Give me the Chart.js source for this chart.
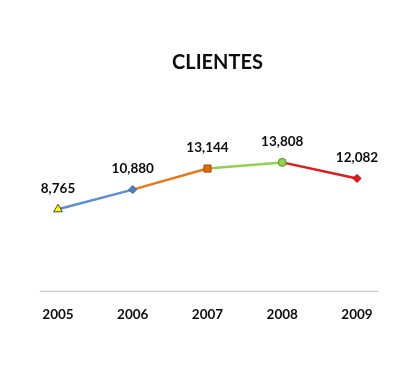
<!DOCTYPE html>
<html>
<head>
<meta charset="utf-8">
<script src="https://cdn.jsdelivr.net/npm/chart.js@4"></script>
<style>
html,body{margin:0;padding:0;background:#fff;}
#wrap{width:409px;height:375px;position:relative;}
</style>
</head>
<body>
<div id="wrap"><canvas id="c" width="409" height="375"></canvas></div>
<script>
const title = "CLIENTES";
const years = ["2005", "2006", "2007", "2008", "2009"];
const clientes = [8765, 10880, 13144, 13808, 12082];
const segmentColors = ["#5B8FD0", "#E8781E", "#92D050", "#E01A1A"];
const pointStyles = ["triangle", "rectRot", "rect", "circle", "rectRot"];
const pointFills = ["#FFFF00", "#4F7FBF", "#E46C0A", "#92D050", "#E01A1A"];
const pointBorders = ["#404040", "#2F5F9F", "#A04A08", "#5E8A30", "#C00000"];

const FONT = "Lato, 'Open Sans', sans-serif";

const decor = {
  id: "decor",
  beforeDatasetsDraw(chart) {
    const ctx = chart.ctx;
    const x = chart.scales.x, y = chart.scales.y;
    const step = x.getPixelForValue(1) - x.getPixelForValue(0);
    const y0 = y.getPixelForValue(0);
    ctx.save();
    ctx.strokeStyle = "#BFBFBF";
    ctx.lineWidth = 1;
    ctx.beginPath();
    ctx.moveTo(x.getPixelForValue(0) - step * 0.245, y0 + 0.5);
    ctx.lineTo(x.getPixelForValue(years.length - 1) + step * 0.28, y0 + 0.5);
    ctx.stroke();
    ctx.restore();
  },
  afterDatasetsDraw(chart) {
    const ctx = chart.ctx;
    const meta = chart.getDatasetMeta(0);
    ctx.save();
    ctx.fillStyle = "#0D0D0D";
    ctx.textAlign = "center";
    ctx.textBaseline = "middle";
    ctx.font = "bold 13.5px " + FONT;
    meta.data.forEach((pt, i) => {
      ctx.fillText(clientes[i].toLocaleString("en-US"), pt.x, pt.y - 21);
    });
    ctx.font = "bold 20px " + FONT;
    const ca = chart.chartArea;
    ctx.fillText(title, (ca.left + ca.right) / 2 + 10, 63);
    ctx.restore();
  }
};

new Chart(document.getElementById("c"), {
  type: "line",
  data: {
    labels: years,
    datasets: [{
      data: clientes,
      borderWidth: 2.5,
      borderColor: segmentColors[0],
      segment: {
        borderColor: c => segmentColors[c.p0DataIndex]
      },
      pointStyle: pointStyles,
      pointBackgroundColor: pointFills,
      pointBorderColor: pointBorders,
      pointBorderWidth: 1,
      pointRadius: [5, 4, 5, 4, 4],
      tension: 0
    }]
  },
  options: {
    responsive: false,
    animation: false,
    events: [],
    layout: { padding: { left: 58, right: 52, top: 142, bottom: 36 } },
    plugins: { legend: { display: false }, tooltip: { enabled: false }, title: { display: false } },
    scales: {
      x: {
        offset: false,
        grid: { display: false, drawTicks: false },
        border: { display: false },
        ticks: { color: "#0D0D0D", font: { family: FONT, size: 13.5, weight: "bold" }, padding: 16, maxRotation: 0, autoSkip: false }
      },
      y: {
        display: false,
        min: 0,
        max: 16000
      }
    }
  },
  plugins: [decor]
});
</script>
</body>
</html>
